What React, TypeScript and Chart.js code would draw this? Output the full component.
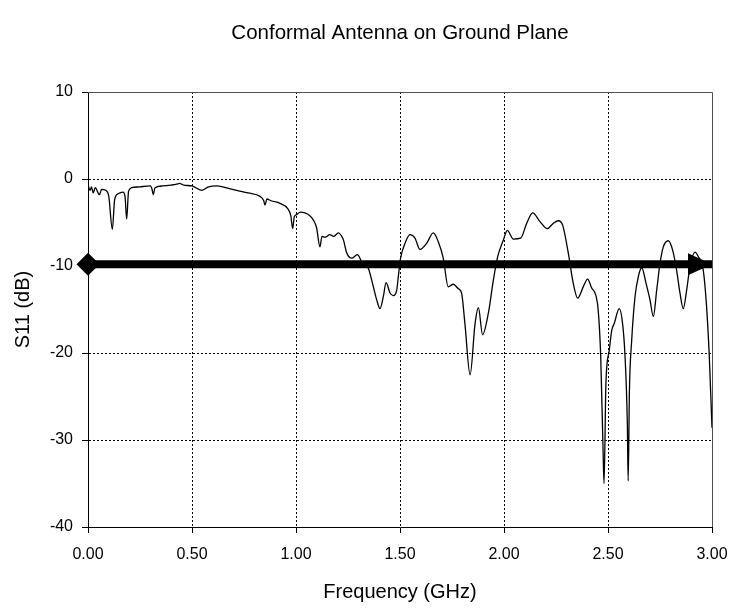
import React, { useEffect, useRef } from "react";
import { Chart, registerables } from "chart.js";

Chart.register(...registerables);

const TITLE = "Conformal Antenna on Ground Plane";
const X_TITLE = "Frequency (GHz)";
const Y_TITLE = "S11 (dB)";

const freqGHz = [
  0.0, 0.01, 0.017, 0.025, 0.035, 0.055, 0.065, 0.085, 0.1, 0.117, 0.128, 0.145, 0.168, 0.178, 0.186, 0.195,
  0.21, 0.25, 0.3, 0.307, 0.314, 0.322, 0.36, 0.4, 0.426, 0.44, 0.46, 0.5, 0.546, 0.58, 0.62, 0.68, 0.715,
  0.77, 0.827, 0.845, 0.851, 0.86, 0.88, 0.923, 0.96, 0.975, 0.984, 0.992, 1.003, 1.02, 1.043, 1.065, 1.083,
  1.099, 1.115, 1.125, 1.14, 1.163, 1.18, 1.204, 1.22, 1.228, 1.244, 1.268, 1.295, 1.316, 1.348, 1.372,
  1.388, 1.404, 1.42, 1.433, 1.452, 1.468, 1.484, 1.492, 1.503, 1.524, 1.548, 1.572, 1.596, 1.628, 1.66,
  1.684, 1.708, 1.732, 1.756, 1.78, 1.796, 1.812, 1.837, 1.861, 1.877, 1.897, 1.925, 1.949, 1.97, 1.997,
  2.016, 2.045, 2.08, 2.109, 2.138, 2.173, 2.208, 2.237, 2.261, 2.282, 2.309, 2.333, 2.354, 2.381, 2.402,
  2.421, 2.442, 2.453, 2.465, 2.477, 2.481, 2.49, 2.506, 2.518, 2.53, 2.554, 2.57, 2.582, 2.593, 2.597,
  2.603, 2.614, 2.63, 2.646, 2.662, 2.683, 2.702, 2.718, 2.734, 2.75, 2.766, 2.79, 2.811, 2.83, 2.846,
  2.862, 2.878, 2.894, 2.918, 2.934, 2.958, 2.974, 2.987, 3.0,
];

const s11dB = [
  -0.7, -1.3, -0.9, -1.6, -1.0, -1.8, -1.2, -1.3, -2.0, -5.8, -2.4, -1.7, -1.5, -2.0, -4.6, -1.4,
  -1.0, -0.9, -0.8, -1.1, -1.8, -1.0, -0.8, -0.7, -0.6, -0.5, -0.7, -0.8, -1.3, -0.9, -0.8, -1.1, -1.3,
  -1.6, -2.0, -2.5, -3.0, -2.3, -2.5, -2.8, -3.4, -4.2, -5.7, -4.3, -4.1, -3.8, -3.9, -4.2, -4.7,
  -5.6, -7.8, -6.6, -6.7, -6.4, -6.6, -6.2, -6.6, -7.0, -8.5, -9.1, -8.7, -9.5, -10.3, -12.4,
  -13.9, -14.9, -13.5, -11.9, -13.1, -13.4, -12.8, -11.2, -9.1, -7.4, -6.4, -6.8, -8.1, -7.4, -6.2,
  -7.2, -9.1, -12.4, -12.1, -12.6, -13.1, -16.6, -22.5, -16.6, -14.8, -17.9, -15.4, -11.6, -8.9, -7.0,
  -5.9, -6.9, -6.8, -5.1, -3.9, -4.9, -5.7, -5.1, -4.8, -5.3, -8.5, -12.0, -13.7, -12.4, -11.5,
  -12.5, -13.4, -15.1, -20.4, -31.9, -35.0, -23.5, -19.7, -17.4, -16.6, -14.9, -16.6, -20.4, -28.1, -34.7,
  -24.3, -18.5, -13.5, -11.2, -10.2, -12.0, -13.9, -15.8, -12.8, -9.7, -7.8, -7.1, -8.2, -10.5, -13.1,
  -14.9, -12.8, -10.1, -8.4, -8.9, -10.5, -14.7, -20.4, -28.6,
];

const refFreq = [0.0, 3.0];
const refLevel = [-9.8, -9.8];

const X_MIN = 0;
const X_MAX = 3;
const X_STEP = 0.5;
const Y_MIN = -40;
const Y_MAX = 10;
const Y_STEP = 10;

const FONT = "'Liberation Sans', Arial, sans-serif";

const framePlugin = {
  id: "frame",
  beforeDatasetsDraw(chart: any) {
    const { ctx, chartArea } = chart;
    ctx.save();
    ctx.strokeStyle = "#505050";
    ctx.lineWidth = 1;
    ctx.beginPath();
    ctx.moveTo(chartArea.left, chartArea.top + 0.5);
    ctx.lineTo(chartArea.right + 0.5, chartArea.top + 0.5);
    ctx.lineTo(chartArea.right + 0.5, chartArea.bottom);
    ctx.stroke();
    ctx.restore();
  },
};

const arrowPlugin = {
  id: "arrowMarks",
  afterDatasetsDraw(chart: any) {
    const meta = chart.getDatasetMeta(1);
    if (!meta || !meta.data || meta.data.length < 2) return;
    const p0 = meta.data[0];
    const p1 = meta.data[meta.data.length - 1];
    const { ctx } = chart;
    ctx.save();
    ctx.fillStyle = "#000";
    const d = 11.5;
    ctx.beginPath();
    ctx.moveTo(p0.x - d, p0.y);
    ctx.lineTo(p0.x, p0.y - d);
    ctx.lineTo(p0.x + d, p0.y);
    ctx.lineTo(p0.x, p0.y + d);
    ctx.closePath();
    ctx.fill();
    ctx.beginPath();
    ctx.moveTo(p1.x, p1.y);
    ctx.lineTo(p1.x - 24, p1.y - 11);
    ctx.lineTo(p1.x - 24, p1.y + 11);
    ctx.closePath();
    ctx.fill();
    ctx.restore();
  },
};

export default function App() {
  const canvasRef = useRef<HTMLCanvasElement | null>(null);

  useEffect(() => {
    if (!canvasRef.current) return;
    const curve = freqGHz.map((f, i) => ({ x: f, y: s11dB[i] }));
    const ref = refFreq.map((f, i) => ({ x: f, y: refLevel[i] }));

    const chart = new Chart(canvasRef.current, {
      type: "line",
      data: {
        datasets: [
          {
            data: curve,
            borderColor: "#000",
            borderWidth: 1.3,
            pointRadius: 0,
            cubicInterpolationMode: "monotone",
            fill: false,
          },
          {
            data: ref,
            borderColor: "#000",
            borderWidth: 8,
            pointRadius: 0,
            fill: false,
          },
        ],
      },
      options: {
        animation: false,
        responsive: true,
        maintainAspectRatio: false,
        parsing: false,
        layout: { padding: { left: 0, right: 20, top: 0, bottom: 0 } },
        plugins: {
          legend: { display: false },
          tooltip: { enabled: false },
          title: {
            display: true,
            text: TITLE,
            fullSize: false,
            color: "#000",
            font: { family: FONT, size: 20.5, weight: "normal" },
            padding: { top: 20.7, bottom: 46.7 },
          },
        },
        scales: {
          x: {
            type: "linear",
            min: X_MIN,
            max: X_MAX,
            afterFit: (s: any) => {
              s.height = 84;
              s.paddingLeft = 0;
              s.paddingRight = 0;
            },
            ticks: {
              stepSize: X_STEP,
              color: "#000",
              padding: 12,
              maxRotation: 0,
              font: { family: FONT, size: 16 },
              callback: (v: any) => Number(v).toFixed(2),
            },
            grid: {
              color: (c: any) =>
                c.tick && (c.tick.value === X_MIN || Math.abs(c.tick.value - X_MAX) < 1e-9) ? "rgba(0,0,0,0)" : "#000",
              lineWidth: 1,
              tickColor: "#000",
              tickLength: 6,
              tickBorderDash: [],
            },
            border: { display: true, color: "#000", width: 1, dash: [2, 2] },
            title: {
              display: true,
              text: X_TITLE,
              color: "#000",
              font: { family: FONT, size: 20 },
              padding: { top: 0, bottom: 7 },
            },
          },
          y: {
            type: "linear",
            min: Y_MIN,
            max: Y_MAX,
            afterFit: (s: any) => {
              s.width = 88;
              s.paddingTop = 0;
              s.paddingBottom = 0;
            },
            ticks: {
              stepSize: Y_STEP,
              color: "#000",
              padding: 9,
              font: { family: FONT, size: 16 },
            },
            grid: {
              color: (c: any) =>
                c.tick && (c.tick.value === Y_MAX || c.tick.value === Y_MIN) ? "rgba(0,0,0,0)" : "#000",
              lineWidth: 1,
              tickColor: "#000",
              tickLength: 6,
              tickBorderDash: [],
            },
            border: { display: true, color: "#000", width: 1, dash: [2, 2] },
            title: {
              display: true,
              text: Y_TITLE,
              color: "#000",
              font: { family: FONT, size: 20 },
              padding: { top: 11, bottom: 0 },
            },
          },
        },
      },
      plugins: [framePlugin, arrowPlugin],
    } as any);

    return () => chart.destroy();
  }, []);

  return (
    <div style={{ position: "absolute", left: 0, top: 0, width: 732, height: 611, background: "#fff" }}>
      <canvas ref={canvasRef} />
    </div>
  );
}
